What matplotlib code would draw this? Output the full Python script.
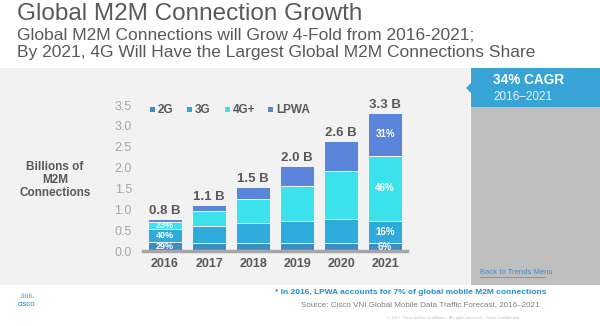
import numpy as np
import matplotlib.pyplot as plt
from matplotlib.patches import Rectangle, Polygon

plt.rcParams['font.family'] = ['Liberation Sans', 'DejaVu Sans']

years = ['2016', '2017', '2018', '2019', '2020', '2021']
g2 = [0.22, 0.19, 0.19, 0.19, 0.20, 0.20]
g3 = [0.31, 0.41, 0.48, 0.53, 0.57, 0.52]
g4 = [0.17, 0.36, 0.58, 0.84, 1.15, 1.56]
lpwa = [0.07, 0.14, 0.28, 0.48, 0.72, 1.03]
totals = ['0.8 B', '1.1 B', '1.5 B', '2.0 B', '2.6 B', '3.3 B']
series_names = ['2G', '3G', '4G+', 'LPWA']
colors = ['#3f8cc4', '#2fabdb', '#3be2ec', '#5b85da']
pct_2016 = ['29%', '40%', '23%']
pct_2021 = ['6%', '16%', '46%', '31%']

W, H = 600, 326
fig = plt.figure(figsize=(6, 3.26), dpi=100, facecolor='white')

def fx(x):
    return x / W

def fy(y):
    return 1 - y / H

# background axes for the slide panels
bg = fig.add_axes([0, 0, 1, 1], zorder=-1)
bg.set_xlim(0, W)
bg.set_ylim(H, 0)
bg.axis('off')

def rect(x0, y0, x1, y1, color):
    bg.add_patch(Rectangle((x0, y0), x1 - x0, y1 - y0, color=color, lw=0))

rect(0, 68, 470, 285, '#f2f2f2')
rect(471, 107, 600, 285, '#bfbfbf')
rect(471, 68, 600, 107, '#38a3d5')
bg.add_patch(Polygon([(471, 83), (466, 88), (471, 93)], color='#38a3d5', lw=0))

# titles
bg.text(17, 14, 'Global M2M Connection Growth', fontsize=17.5, color='#595959',
        va='center', ha='left')
bg.text(17, 36, 'Global M2M Connections will Grow 4-Fold from 2016-2021;',
        fontsize=12.5, color='#595959', va='center', ha='left')
bg.text(17, 53, 'By 2021, 4G Will Have the Largest Global M2M Connections Share',
        fontsize=12.5, color='#595959', va='center', ha='left')

# right box
bg.text(493, 80, '34% CAGR', fontsize=9.8, fontweight='bold', color='white',
        va='center', ha='left')
bg.text(493, 97, '2016\u20132021', fontsize=8.5, color='#e8f4fb', va='center', ha='left')
bg.text(480, 273, 'Back to Trends Menu', fontsize=5.5, color='#3a8fd0',
        va='center', ha='left')
bg.plot([480, 545], [277, 277], color='#3a8fd0', lw=0.5)

# y label
bg.text(55, 180, 'Billions of\nM2M\nConnections', fontsize=8.5, fontweight='bold',
        color='#595959', ha='center', va='center', linespacing=1.1)

# footer
bg.text(275, 293, '* In 2016, LPWA accounts for 7% of global mobile M2M connections',
        fontsize=6, fontweight='bold', color='#1f8fcf', ha='left', va='center')
bg.text(301, 305, 'Source: Cisco VNI Global Mobile Data Traffic Forecast, 2016\u20132021',
        fontsize=5.8, color='#7f7f7f', ha='left', va='center')
bg.text(387, 318, '\u00a9 2017  Cisco and/or its affiliates. All rights reserved.   Cisco Confidential',
        fontsize=3, color='#bfbfbf', ha='left', va='center')
bg.text(27, 297, '.ılıılı.', fontsize=5, color='#1ba0d7', ha='center', va='center')
bg.text(27, 305, 'CISCO', fontsize=4, fontweight='bold', color='#1ba0d7',
        ha='center', va='center')

# legend
leg_x = [150, 187, 225, 268]
for lx, name, c in zip(leg_x, series_names, colors):
    bg.add_patch(Rectangle((lx, 107), 5, 5, color=c, lw=0))
    bg.text(lx + 8, 110, name, fontsize=8.5, fontweight='bold', color='#595959',
            ha='left', va='center')

# chart axes
ax = fig.add_axes([fx(143), fy(251), fx(407) - fx(143), fy(95) - fy(251)], zorder=2)
ax.set_facecolor('none')
ymax = (251 - 95) / 41.7
ax.set_xlim(-0.5, 5.5)
ax.set_ylim(0, ymax)

x = np.arange(len(years))
bottom = np.zeros(len(years))
for vals, c in zip([g2, g3, g4, lpwa], colors):
    ax.bar(x, vals, width=0.77, bottom=bottom, color=c, edgecolor='white', linewidth=0.6, zorder=2)
    bottom += np.array(vals)

for i, t in enumerate(totals):
    ax.text(x[i], bottom[i] + 0.05, t, ha='center', va='bottom', fontsize=9.5,
            fontweight='bold', color='#595959')

# percentage labels
vals16 = [g2[0], g3[0], g4[0]]
starts16 = np.concatenate([[0], np.cumsum(vals16)[:-1]])
for s, v, p in zip(starts16, vals16, pct_2016):
    ax.text(x[0], s + v / 2, p, ha='center', va='center', fontsize=6.5, fontweight='bold',
            color='white', zorder=3)
vals21 = [g2[5], g3[5], g4[5], lpwa[5]]
starts21 = np.concatenate([[0], np.cumsum(vals21)[:-1]])
for s, v, p in zip(starts21, vals21, pct_2021):
    ax.text(x[5], s + v / 2, p, ha='center', va='center', fontsize=7, fontweight='bold',
            color='white', zorder=3)

ax.set_yticks(np.arange(0, 3.51, 0.5))
ax.set_yticklabels(['%.1f' % v for v in np.arange(0, 3.51, 0.5)])
ax.tick_params(axis='y', length=0, labelsize=9, labelcolor='#a6a6a6', pad=8)
ax.set_xticks(x)
ax.set_xticklabels(years)
ax.tick_params(axis='x', length=0, labelsize=9, labelcolor='#595959', pad=5)
for lab in ax.get_xticklabels():
    lab.set_fontweight('bold')
for side in ['top', 'right', 'left']:
    ax.spines[side].set_visible(False)
ax.spines['bottom'].set_color('#a6a6a6')
ax.spines['bottom'].set_linewidth(2.5)

fig.savefig('out.png', dpi=100, facecolor='white')
